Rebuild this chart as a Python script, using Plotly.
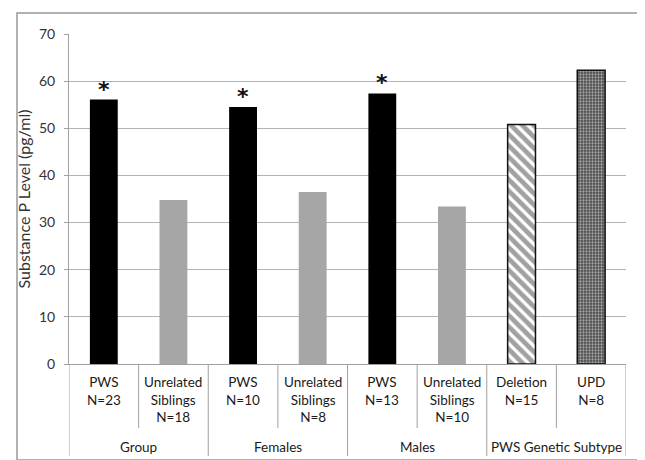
import plotly.graph_objects as go

# ---- data ----
sub_labels = ["PWS<br>N=23", "Unrelated<br>Siblings<br>N=18",
              "PWS<br>N=10", "Unrelated<br>Siblings<br>N=8",
              "PWS<br>N=13", "Unrelated<br>Siblings<br>N=10",
              "Deletion<br>N=15", "UPD<br>N=8"]
group_labels = ["Group", "Females", "Males", "PWS Genetic Subtype"]
values = [56.1, 34.8, 54.5, 36.5, 57.4, 33.4, 50.8, 62.3]
significant = [True, False, True, False, True, False, False, False]
y_ticks = [0, 10, 20, 30, 40, 50, 60, 70]

# ---- styles ----
colors = ["#000000", "#a6a6a6", "#000000", "#a6a6a6", "#000000", "#a6a6a6", "#ffffff", "#4a4a4a"]
shapes_pat = ["", "", "", "", "", "", "\\", "."]
fg_pat = ["#000000"] * 6 + ["#000000", "#ffffff"]
line_w = [0, 0, 0, 0, 0, 0, 1.5, 1.5]

FONT = "Lato, Open Sans, sans-serif"
L, R, T, B = 61, 27, 26, 104
W, H = 645, 460
pw, ph = W - L - R, H - T - B

def px_to_py(y):  # pixel y -> paper y
    return (H - B - y) / ph

def px_to_px(x):
    return (x - L) / pw

xs = list(range(len(values)))

fig = go.Figure()
fig.add_trace(go.Bar(
    x=xs, y=values, width=0.4,
    marker=dict(
        color=colors,
        line=dict(color="#111111", width=line_w),
        pattern=dict(shape=shapes_pat, fgcolor=fg_pat,
                     size=[8, 8, 8, 8, 8, 8, 8, 3], solidity=[0.2]*6 + [0.6, 0.45],
                     fillmode="overlay"),
    ),
    hoverinfo="skip",
))

annotations = []
for i, (v, s) in enumerate(zip(values, significant)):
    if s:
        annotations.append(dict(x=i, y=v, xref="x", yref="y", text="<b>*</b>",
                                showarrow=False, yanchor="bottom", yshift=-4,
                                font=dict(size=22, color="#111111", family="DejaVu Sans")))
for i, lab in enumerate(sub_labels):
    annotations.append(dict(x=i, y=px_to_py(364), xref="x", yref="paper", text=lab,
                            showarrow=False, yanchor="top", align="center",
                            font=dict(size=13.5, color="#1a1a1a", family=FONT)))
for g, lab in enumerate(group_labels):
    annotations.append(dict(x=2 * g + 0.5, y=px_to_py(439), xref="x", yref="paper",
                            text=lab, showarrow=False, yanchor="middle",
                            font=dict(size=13.5, color="#1a1a1a", family=FONT)))

shapes = []
line_col = "#a0a0a0"
for k in range(len(values) + 1):
    x = k - 0.5
    y1 = px_to_py(448) if (k % 2 == 0) else px_to_py(420)
    shapes.append(dict(type="line", xref="x", yref="paper", x0=x, x1=x,
                       y0=0, y1=y1, line=dict(color=line_col, width=1)))
# outer border
shapes.append(dict(type="rect", xref="paper", yref="paper",
                   x0=px_to_px(9), x1=px_to_px(637), y0=px_to_py(452), y1=px_to_py(5),
                   line=dict(color="#999999", width=1.5), fillcolor="rgba(0,0,0,0)", layer="below"))

fig.update_layout(
    width=W, height=H,
    margin=dict(l=L, r=R, t=T, b=B),
    paper_bgcolor="white", plot_bgcolor="white",
    showlegend=False,
    font=dict(family=FONT, size=13, color="#333333"),
    annotations=annotations,
    shapes=shapes,
    bargap=0.6,
)
fig.update_xaxes(range=[-0.5, len(values) - 0.5], showticklabels=False, showgrid=False,
                 zeroline=False, showline=True, linecolor=line_col, linewidth=1,
                 ticks="", fixedrange=True)
fig.update_yaxes(range=[0, 70], tickvals=y_ticks, showgrid=True, gridcolor="#b4b4b4",
                 gridwidth=1, zeroline=False, showline=True, linecolor=line_col, linewidth=1,
                 ticks="outside", ticklen=4, tickcolor=line_col, ticklabelstandoff=6,
                 tickfont=dict(size=14, color="#333333", family=FONT),
                 title=dict(text="Substance P Level (pg/ml)", standoff=4,
                            font=dict(size=16, color="#333333", family=FONT)))

fig.write_html("out.html")
